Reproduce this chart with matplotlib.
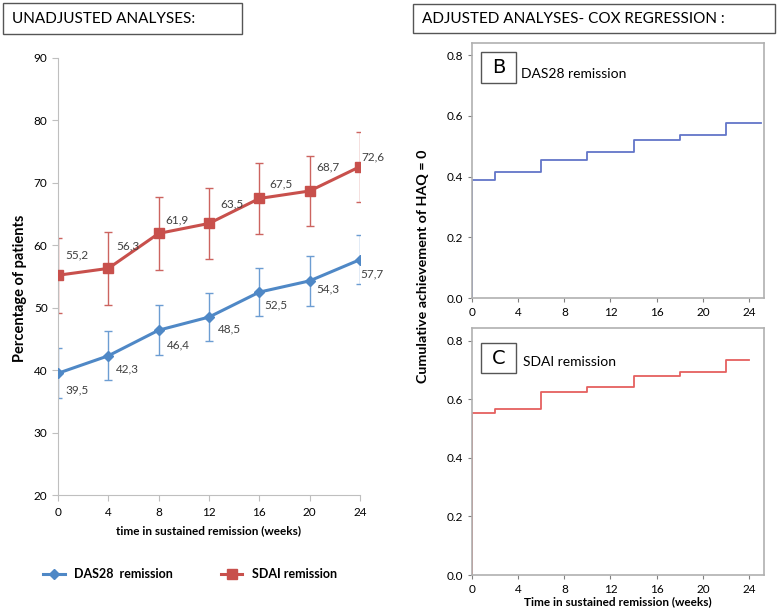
import matplotlib
matplotlib.use("Agg")
import matplotlib.pyplot as plt
from matplotlib.patches import Rectangle
from matplotlib.lines import Line2D

plt.rcParams['font.family'] = ['Lato', 'DejaVu Sans']

# ---- data ----
weeks = [0, 4, 8, 12, 16, 20, 24]
das28_pct = [39.5, 42.3, 46.4, 48.5, 52.5, 54.3, 57.7]
das28_err = [4.0, 3.9, 4.0, 3.9, 3.9, 4.0, 3.9]
sdai_pct = [55.2, 56.3, 61.9, 63.5, 67.5, 68.7, 72.6]
sdai_err = [6.0, 5.8, 5.9, 5.7, 5.7, 5.6, 5.6]
das28_labels = ["39,5", "42,3", "46,4", "48,5", "52,5", "54,3", "57,7"]
sdai_labels = ["55,2", "56,3", "61,9", "63,5", "67,5", "68,7", "72,6"]

step_times_das = [0, 2, 6, 10, 14, 18, 22, 25]
step_vals_das = [0.388, 0.414, 0.456, 0.480, 0.519, 0.538, 0.576, 0.576]
step_times_sdai = [0, 2, 6, 10, 14, 18, 22, 24]
step_vals_sdai = [0.552, 0.566, 0.626, 0.642, 0.680, 0.694, 0.735, 0.735]

xticks_km = [0, 4, 8, 12, 16, 20, 24]
yticks_km = [0.0, 0.2, 0.4, 0.6, 0.8]

# label placement (pixel offsets from the point: right, up)
sdai_lab_off = [(7, 20), (8, 22), (7, 14), (11, 20), (10, 15), (7, 24), (1, 10)]
das_lab_off = [(7, -17), (8, -13), (8, -15), (9, -12), (5, -13), (7, -8), (0, -14)]

W, H = 778, 611
fig = plt.figure(figsize=(W / 100, H / 100), dpi=100)

def fx(px):
    return px / W

def fy(py):
    return 1 - py / H

PT = 0.72  # points per pixel at 100 dpi

blue = '#4f88c6'
red = '#c8504c'
blue_err = '#6c9dd2'
red_err = '#cc6460'
grey_ax = '#bfbfbf'
txt = '#404040'

# ---- left panel ----
axL = fig.add_axes([fx(58), fy(495), fx(360) - fx(58), fy(58) - fy(495)])
axL.errorbar(weeks, sdai_pct, yerr=sdai_err, fmt='none', ecolor=red_err,
             elinewidth=1.0, capsize=3, capthick=1.0, zorder=2)
axL.errorbar(weeks, das28_pct, yerr=das28_err, fmt='none', ecolor=blue_err,
             elinewidth=1.0, capsize=3, capthick=1.0, zorder=2)
axL.plot(weeks, sdai_pct, color=red, lw=2.2, marker='s', ms=7, zorder=3)
axL.plot(weeks, das28_pct, color=blue, lw=2.2, marker='D', ms=5.5, zorder=3)
for x, y, s, (dx, dy) in zip(weeks, sdai_pct, sdai_labels, sdai_lab_off):
    axL.annotate(s, (x, y), xytext=(dx * PT, dy * PT), textcoords='offset points',
                 fontsize=8.5, color=txt, ha='left', va='center')
for x, y, s, (dx, dy) in zip(weeks, das28_pct, das28_labels, das_lab_off):
    axL.annotate(s, (x, y), xytext=(dx * PT, dy * PT), textcoords='offset points',
                 fontsize=8.5, color=txt, ha='left', va='center')
axL.set_xlim(0, 24)
axL.set_ylim(20, 90)
axL.set_xticks(weeks)
axL.set_yticks(range(20, 91, 10))
for s in ['top', 'right']:
    axL.spines[s].set_visible(False)
for s in ['left', 'bottom']:
    axL.spines[s].set_color(grey_ax)
axL.tick_params(colors=grey_ax, labelcolor='black', labelsize=8.5, length=4,
                direction='out')
axL.tick_params(axis='x', pad=5)
axL.set_xlabel('time in sustained remission (weeks)', fontsize=8.5,
               fontweight='bold', labelpad=5)
fig.text(fx(20), fy(288), 'Percentage of patients', rotation=90,
         fontsize=10.5, fontweight='bold', ha='center', va='center')

# legend
handles = [Line2D([], [], color=blue, lw=2.2, marker='D', ms=5.5),
           Line2D([], [], color=red, lw=2.2, marker='s', ms=7)]
fig.legend(handles, ['DAS28  remission', 'SDAI remission'], loc='center left',
           bbox_to_anchor=(fx(32), fy(574)), ncol=2, frameon=False,
           prop={'size': 9, 'weight': 'bold'}, handlelength=1.7,
           columnspacing=3.8, handletextpad=0.8)

# title boxes
fig.patches.append(Rectangle((fx(3), fy(34)), fx(242) - fx(3), fy(3) - fy(34),
                             transform=fig.transFigure, fill=False,
                             edgecolor='#555555', lw=1.0))
fig.text(fx(12), fy(19), 'UNADJUSTED ANALYSES:', fontsize=11, va='center',
         ha='left', color='black')
fig.patches.append(Rectangle((fx(413), fy(33)), fx(775) - fx(413), fy(4) - fy(33),
                             transform=fig.transFigure, fill=False,
                             edgecolor='#555555', lw=1.0))
fig.text(fx(422), fy(19), 'ADJUSTED ANALYSES- COX REGRESSION :', fontsize=11,
         va='center', ha='left', color='black')

# ---- right panels ----
def km_axes(rect, times, vals, color, letter, label, ylim_top, box, lab_x, lab_y):
    ax = fig.add_axes(rect)
    ax.step(times, vals, where='post', color=color, lw=1.3)
    ax.plot([0, 0], [0, vals[0]], color=color, lw=1.3)
    ax.set_xlim(0, 25.3)
    ax.set_ylim(0, ylim_top)
    ax.set_xticks(xticks_km)
    ax.set_yticks(yticks_km)
    ax.set_yticklabels(['%.1f' % v for v in yticks_km])
    for s in ax.spines.values():
        s.set_color('#b0b0b0')
        s.set_linewidth(1.2)
    ax.tick_params(colors='#808080', labelcolor='black', labelsize=8.5,
                   length=3, direction='out')
    x0, y0, x1, y1 = box
    ax.add_patch(Rectangle((x0, y0), x1 - x0, y1 - y0, transform=ax.transAxes,
                           fill=False, edgecolor='#555555', lw=1.0))
    ax.text((x0 + x1) / 2, (y0 + y1) / 2, letter, transform=ax.transAxes,
            fontsize=14, family=['DejaVu Sans'], ha='center', va='center')
    ax.text(lab_x, lab_y, label, transform=ax.transAxes, fontsize=10,
            ha='left', va='center')
    return ax

axB = km_axes([fx(472), fy(298), fx(764) - fx(472), fy(43) - fy(298)],
              step_times_das, step_vals_das, '#6275c8', 'B', 'DAS28 remission', 0.84,
              (0.031, 0.843, 0.151, 0.965), 0.168, 0.878)
axC = km_axes([fx(472), fy(575), fx(764) - fx(472), fy(328) - fy(575)],
              step_times_sdai, step_vals_sdai, '#e5605f', 'C', 'SDAI remission', 0.844,
              (0.031, 0.818, 0.151, 0.939), 0.175, 0.862)
axC.set_xlabel('Time in sustained remission (weeks)', fontsize=8.5,
               fontweight='bold', labelpad=1)
fig.text(fx(423), fy(266), 'Cumulative achievement of HAQ = 0', rotation=90,
         fontsize=10.3, fontweight='bold', ha='center', va='center')

fig.savefig('out.png', dpi=100)
